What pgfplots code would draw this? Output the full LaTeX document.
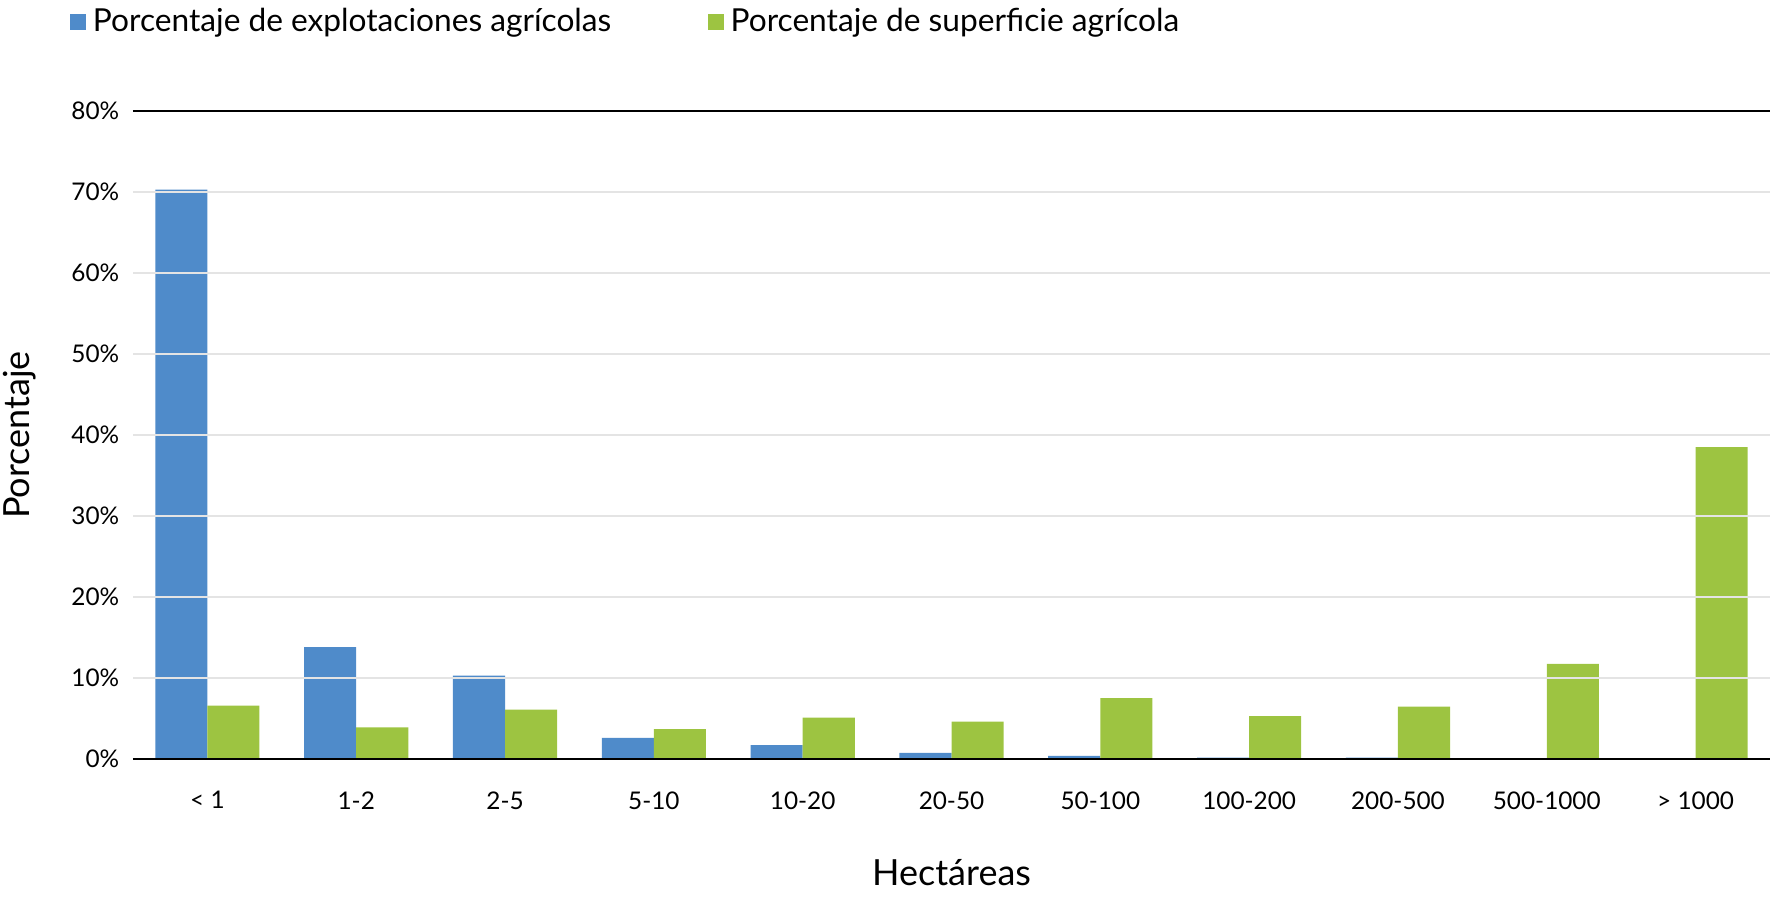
\documentclass[border=0pt]{standalone}
\usepackage{fontspec}
\setmainfont{Lato}
\usepackage{pgfplots}
\pgfplotsset{compat=1.18}
\definecolor{barblue}{RGB}{79,139,202}
\definecolor{bargreen}{RGB}{157,196,65}
\definecolor{gridgray}{RGB}{228,228,228}
\begin{document}
\begin{tikzpicture}
\path[use as bounding box] (-39.9pt,-41.7pt) rectangle (494.4pt,227.7pt);
\begin{axis}[
  scale only axis,
  width=491.1pt, height=194.4pt,
  ybar=0pt, bar width=0.35,
  xmin=-0.5, xmax=10.5, ymin=0, ymax=80,
  xtick={0,...,10},
  xticklabels={{< 1},{1-2},{2-5},{5-10},{10-20},{20-50},{50-100},{100-200},{200-500},{500-1000},{> 1000}},
  ytick={0,10,...,80},
  yticklabel={\pgfmathprintnumber{\tick}\%},
  /pgf/number format/assume math mode=true,
  major tick length=0pt,
  axis x line*=bottom,
  axis y line*=left,
  y axis line style={draw=none},
  x axis line style={black, line width=0.8pt, -},
  ymajorgrids, grid style={gridgray, line width=0.6pt},
  axis on top,
  tick label style={font=\fontsize{7.3}{9}\selectfont},
  yticklabel style={xshift=-0.6pt},
  xticklabel style={yshift=-6.2pt},
  xlabel={Hectáreas}, ylabel={Porcentaje},
  label style={font=\fontsize{10.8}{12}\selectfont},
  xlabel style={at={(rel axis cs:0.5,0)}, anchor=center, yshift=-34pt},
  ylabel style={at={(rel axis cs:0,0.5)}, anchor=center, yshift=34pt},
  legend columns=2,
  legend style={draw=none, fill=none, at={(0,1)}, anchor=west, xshift=-19pt, yshift=26.7pt,
    font=\fontsize{9.5}{11}\selectfont, inner sep=0pt,
    /tikz/every even column/.append style={column sep=27pt}},
  legend cell align=left,
  legend image code/.code={\fill[#1] (0pt,-2.4pt) rectangle (4.8pt,2.4pt);},
  after end axis/.code={\draw[black, line width=0.5pt] (rel axis cs:0,1) -- (rel axis cs:1,1);},
]
\addplot[fill=barblue, draw=none] coordinates {(0,70.3) (1,13.8) (2,10.3) (3,2.6) (4,1.7) (5,0.75) (6,0.4) (7,0.17) (8,0.17) (9,0.12) (10,0.08)};
\addlegendentry{Porcentaje de explotaciones agrícolas}
\addplot[fill=bargreen, draw=none] coordinates {(0,6.6) (1,3.9) (2,6.1) (3,3.7) (4,5.1) (5,4.6) (6,7.5) (7,5.3) (8,6.45) (9,11.75) (10,38.5)};
\addlegendentry{Porcentaje de superficie agrícola}
\end{axis}
\end{tikzpicture}
\end{document}
